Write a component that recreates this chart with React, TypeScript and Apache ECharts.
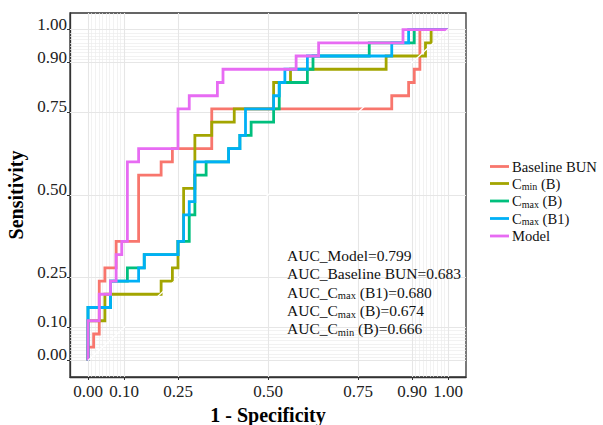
import { useEffect, useRef } from "react";
import * as echarts from "echarts";

// ROC data: corner points of each step curve as [false positives, true positives]
const N_CONTROLS = 64;
const N_CASES = 25;

const seriesNames = ["Baseline BUN", "Cmin (B)", "Cmax (B)", "Cmax (B1)", "Model"];
const seriesColors = ["#F8766D", "#A3A500", "#00BF7D", "#00B0F6", "#E76BF3"];

const baselineBUN = [[0,0],[0,1],[1,1],[1,2],[2,2],[2,6],[3,6],[3,7],[5,7],[5,9],[9,9],[9,14],[13,14],[13,15],[15,15],[15,16],[22,16],[22,19],[54,19],[54,20],[57,20],[57,21],[58,21],[58,22],[59,22],[59,25],[64,25]];
const cminB = [[0,0],[0,3],[3,3],[3,5],[13,5],[13,6],[15,6],[15,7],[16,7],[16,9],[17,9],[17,13],[19,13],[19,17],[22,17],[22,18],[26,18],[26,19],[33,19],[33,21],[36,21],[36,22],[53,22],[53,23],[60,23],[60,24],[61,24],[61,25],[64,25]];
const cmaxB = [[0,0],[0,4],[4,4],[4,6],[7,6],[7,7],[10,7],[10,8],[16,8],[16,9],[18,9],[18,11],[19,11],[19,14],[21,14],[21,15],[25,15],[25,16],[27,16],[27,17],[29,17],[29,18],[33,18],[33,19],[34,19],[34,21],[39,21],[39,22],[40,22],[40,23],[50,23],[50,24],[58,24],[58,25],[64,25]];
const cmaxB1 = [[0,0],[0,4],[4,4],[4,6],[9,6],[9,7],[10,7],[10,8],[16,8],[16,9],[17,9],[17,11],[18,11],[18,12],[19,12],[19,15],[25,15],[25,16],[27,16],[27,17],[28,17],[28,19],[33,19],[33,20],[34,20],[34,21],[35,21],[35,22],[39,22],[39,23],[54,23],[54,24],[57,24],[57,25],[64,25]];
const model = [[0,0],[0,3],[2,3],[2,5],[4,5],[4,6],[5,6],[5,8],[6,8],[6,9],[7,9],[7,15],[9,15],[9,16],[16,16],[16,19],[18,19],[18,20],[23,20],[23,21],[24,21],[24,22],[37,22],[37,23],[41,23],[41,24],[56,24],[56,25],[64,25]];
const curves = [baselineBUN, cminB, cmaxB, cmaxB1, model];

// Axis breaks
const tickValues = [0, 0.1, 0.25, 0.5, 0.75, 0.9, 1];
const minorBreaks = [0.01, 0.02, 0.03, 0.04, 0.05, 0.06, 0.07, 0.08, 0.09, 0.91, 0.92, 0.93, 0.94, 0.95, 0.96, 0.97, 0.98, 0.99];

// AUC annotation
const aucNames = ["Model", "Baseline BUN", "Cmax (B1)", "Cmax (B)", "Cmin (B)"];
const aucValues = ["0.799", "0.683", "0.680", "0.674", "0.666"];

const SERIF = "Liberation Serif";

function richName(name: string): string {
  const m = name.match(/^C(min|max)(.*)$/);
  if (m) return `{n|C}{s|${m[1]}}{n|${m[2]}}`;
  return `{n|${name}}`;
}

export default function App() {
  const ref = useRef<HTMLDivElement>(null);
  useEffect(() => {
    const chart = echarts.init(ref.current!, null, { renderer: "svg" });
    const gridLine = (v: number, axis: "xAxis" | "yAxis") => ({ [axis]: v });
    const option: any = {
      animation: false,
      backgroundColor: "#ffffff",
      textStyle: { fontFamily: SERIF },
      grid: {
        left: 70, right: 137, top: 13, bottom: 48,
        containLabel: false, outerBoundsMode: "none",
        show: true, borderColor: "#333333", borderWidth: 1.3, backgroundColor: "#ffffff",
      },
      xAxis: {
        type: "value", min: -0.05, max: 1.05,
        splitLine: { show: false },
        axisLine: { show: true, onZero: false, lineStyle: { color: "#333333", width: 1.3 } },
        axisTick: { show: true, customValues: tickValues, length: 3, lineStyle: { color: "#333333" } },
        axisLabel: {
          customValues: tickValues, formatter: (v: number) => v.toFixed(2),
          fontFamily: SERIF, fontSize: 17, color: "#222222", margin: 6,
        },
        name: "1 - Specificity", nameLocation: "middle", nameGap: 26,
        nameTextStyle: { fontFamily: SERIF, fontSize: 20, fontWeight: "bold", color: "#000000" },
      },
      yAxis: {
        type: "value", min: -0.05, max: 1.05,
        splitLine: { show: false },
        axisLine: { show: true, onZero: false, lineStyle: { color: "#333333", width: 1.3 } },
        axisTick: { show: true, customValues: tickValues, length: 3, lineStyle: { color: "#333333" } },
        axisLabel: {
          customValues: tickValues, formatter: (v: number) => v.toFixed(2),
          fontFamily: SERIF, fontSize: 17, lineHeight: 11, color: "#222222", margin: 3, verticalAlign: "bottom",
        },
        name: "Sensitivity", nameLocation: "middle", nameGap: 40,
        nameTextStyle: { fontFamily: SERIF, fontSize: 20, fontWeight: "bold", color: "#000000" },
      },
      legend: {
        orient: "vertical", left: 490, top: 159, padding: 0,
        data: seriesNames, icon: "rect", itemWidth: 19, itemHeight: 2.8, itemGap: 2,
        formatter: (name: string) => richName(name),
        textStyle: {
          fontFamily: SERIF, fontSize: 14.6, color: "#111111", padding: [0, 0, 0, -2],
          rich: {
            n: { fontFamily: SERIF, fontSize: 14.6, lineHeight: 16, color: "#111111" },
            s: { fontFamily: SERIF, fontSize: 10, lineHeight: 8, verticalAlign: "bottom", color: "#111111" },
          },
        },
      },
      graphic: [
        {
          type: "text", left: 287, top: 247.5, z: 100,
          style: {
            text: aucNames.map((n, i) => `{n|AUC_}${richName(n)}{n|=${aucValues[i]}}`).join("\n"),
            fill: "#111111", fontFamily: SERIF, fontSize: 15.5,
            rich: {
              n: { fontFamily: SERIF, fontSize: 15.5, lineHeight: 18.3, fill: "#111111" },
              s: { fontFamily: SERIF, fontSize: 10.5, lineHeight: 9, verticalAlign: "bottom", fill: "#111111" },
            },
          },
        },
      ],
      series: [
        {
          type: "line", name: "__minor", data: [], silent: true,
          markLine: {
            z: 1, silent: true, symbol: ["none", "none"], label: { show: false },
            lineStyle: { color: "#EDEDED", width: 0.7, type: "solid" },
            emphasis: { disabled: true },
            data: [...minorBreaks.map((v) => gridLine(v, "xAxis")), ...minorBreaks.map((v) => gridLine(v, "yAxis"))],
          },
        },
        {
          type: "line", name: "__major", data: [], silent: true,
          markLine: {
            z: 1, silent: true, symbol: ["none", "none"], label: { show: false },
            lineStyle: { color: "#E6E6E6", width: 1.1, type: "solid" },
            emphasis: { disabled: true },
            data: [...tickValues.map((v) => gridLine(v, "xAxis")), ...tickValues.map((v) => gridLine(v, "yAxis"))],
          },
        },
        ...curves.map((pts, i) => ({
          type: "line", name: seriesNames[i], z: 10 + i,
          data: pts.map(([fp, tp]) => [fp / N_CONTROLS, tp / N_CASES]),
          showSymbol: false, symbol: "none",
          color: seriesColors[i],
          itemStyle: { color: seriesColors[i] },
          lineStyle: { color: seriesColors[i], width: 2.8, join: "miter" },
          emphasis: { disabled: true },
        })),
        {
          type: "line", name: "__diag", z: 20, silent: true,
          data: [[0, 0], [1, 1]], showSymbol: false, symbol: "none",
          lineStyle: { color: "#ffffff", width: 1.2 },
          emphasis: { disabled: true },
        },
      ],
    };
    chart.setOption(option);
    return () => chart.dispose();
  }, []);
  return <div ref={ref} style={{ position: "fixed", left: 0, top: 0, width: 603, height: 425 }} />;
}
